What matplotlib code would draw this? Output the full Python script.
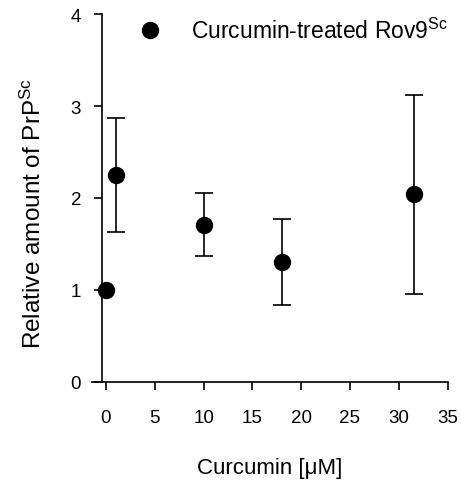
import numpy as np
import matplotlib
matplotlib.use("Agg")
import matplotlib.pyplot as plt

plt.rcParams['font.family'] = ['Liberation Sans', 'DejaVu Sans']
plt.rcParams['mathtext.default'] = 'regular'

# data
conc = [0, 1, 10, 18, 31.6]
rel_amount = [1.0, 2.25, 1.71, 1.30, 2.04]
err_low = [1.0, 1.63, 1.37, 0.84, 0.96]
err_high = [1.0, 2.87, 2.05, 1.77, 3.12]
xticks = [0, 5, 10, 15, 20, 25, 30, 35]
yticks = [0, 1, 2, 3, 4]

W, H = 461, 481
fig = plt.figure(figsize=(W / 100, H / 100), dpi=100)
ax = fig.add_axes([92 / W, 98 / H, (447.6 - 92) / W, 368 / H])

y = np.array(rel_amount)
yerr = [y - np.array(err_low), np.array(err_high) - y]
ax.errorbar(conc, y, yerr=yerr, fmt='none', ecolor='black', elinewidth=1.2,
            capsize=6.5, capthick=1.2, clip_on=False)
ax.plot(conc, y, 'o', color='black', markersize=11.5, linestyle='none',
        clip_on=False, label='Curcumin-treated Rov9$^{Sc}$')

ax.set_xlim(-1.43, 35)
ax.set_ylim(0, 4)
ax.set_xticks(xticks)
ax.set_yticks(yticks)

for s in ['top', 'right']:
    ax.spines[s].set_visible(False)
ax.spines['left'].set_position(('data', -0.44))
ax.spines['left'].set_bounds(0, 4)
ax.spines['left'].set_linewidth(1.2)
ax.spines['bottom'].set_linewidth(1.2)
ax.tick_params(direction='out', length=5.8, width=1.2, labelsize=13.5)
ax.tick_params(axis='x', pad=14)
ax.tick_params(axis='y', pad=9)

ax.set_xlabel('Curcumin [\u03bcM]', fontsize=16, labelpad=22)
ax.set_ylabel('Relative amount of PrP$^{Sc}$', fontsize=17.5)
ax.yaxis.set_label_coords(-0.13, 0.46)

ax.legend(loc='center left', bbox_to_anchor=(139 / W, 1 - 31.7 / H),
          bbox_transform=fig.transFigure, frameon=False, fontsize=16.5,
          handlelength=1, handletextpad=1.25, borderpad=0, borderaxespad=0)

fig.savefig('out.png', dpi=100)
